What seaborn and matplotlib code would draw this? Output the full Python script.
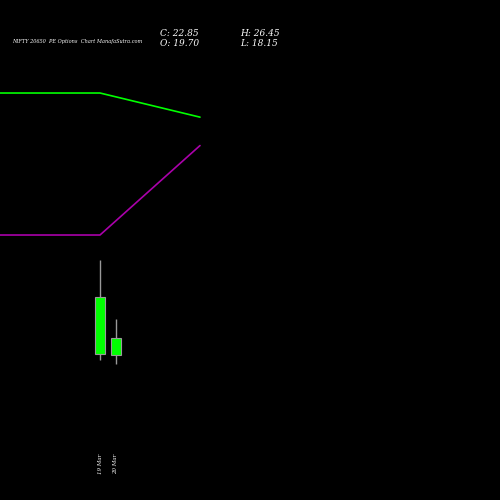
import matplotlib.pyplot as plt
import pandas as pd
import seaborn as sns

dates = ['19 Mar', '20 Mar']
opens = [19.9, 19.70]
closes = [30.4, 22.85]
highs = [37.3, 26.45]
lows = [18.8, 18.15]

line_x = [-6.25, 0, 6.25]
green_line = [100, 100, 83]
purple_line = [0, 0, 63]

sns.set_theme(style="dark", rc={'axes.facecolor': 'black', 'figure.facecolor': 'black'})
plt.rcParams['font.family'] = ['DejaVu Serif']

fig = plt.figure(figsize=(5, 5), dpi=100)
ax = fig.add_axes([0, 0, 1, 1])
ax.set_facecolor('black')
ax.set_xlim(-6.25, 25)
ax.set_ylim(-7.1, 85.4)

for i in range(len(dates)):
    ax.vlines(i, lows[i], highs[i], color='#999999', linewidth=1, zorder=2)
    lo, hi = min(opens[i], closes[i]), max(opens[i], closes[i])
    ax.bar(i, hi - lo, bottom=lo, width=0.6, color='#00ff00', edgecolor='#999999', linewidth=0.8, zorder=3)
    ax.text(i, 0.092, dates[i], rotation=90, color='white', fontsize=4, ha='center', va='top',
            style='italic', transform=ax.get_xaxis_transform(), zorder=4)

ax2 = ax.twinx()
ax2.set_ylim(-186.6, 165.5)
df = pd.DataFrame({'x': line_x, 'green': green_line, 'purple': purple_line})
sns.lineplot(data=df, x='x', y='green', color='#00ff00', linewidth=1.2, ax=ax2)
sns.lineplot(data=df, x='x', y='purple', color='#aa00aa', linewidth=1.2, ax=ax2)

for a in (ax, ax2):
    a.set_xticks([])
    a.set_yticks([])
    a.set_xlabel('')
    a.set_ylabel('')
    for s in a.spines.values():
        s.set_visible(False)

fig.text(0.024, 0.916, 'NIFTY 20650  PE Options  Chart ManafaSutra.com', color='white', fontsize=3.6, style='italic', va='center')
fig.text(0.32, 0.934, 'C: 22.85', color='white', fontsize=6.5, style='italic', va='center')
fig.text(0.32, 0.934 - 0.02, 'O: 19.70', color='white', fontsize=6.5, style='italic', va='center')
fig.text(0.48, 0.934, 'H: 26.45', color='white', fontsize=6.5, style='italic', va='center')
fig.text(0.48, 0.934 - 0.02, 'L: 18.15', color='white', fontsize=6.5, style='italic', va='center')

fig.savefig('out.png', dpi=100, facecolor='black')
